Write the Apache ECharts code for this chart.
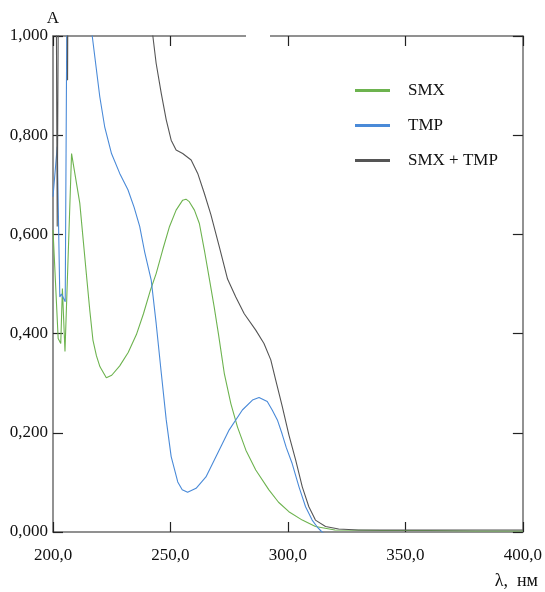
<!DOCTYPE html>
<html>
<head>
<meta charset="utf-8">
<script src="https://cdn.jsdelivr.net/npm/echarts@6/dist/echarts.min.js"></script>
<style>
  html, body { margin: 0; padding: 0; background: #fff; }
  #chart { width: 545px; height: 592px; }
</style>
</head>
<body>
<div id="chart"></div>
<script>
// wavelength ticks and absorbance ticks
const xTicks = [200, 250, 300, 350, 400];
const yTicks = [0, 0.2, 0.4, 0.6, 0.8, 1.0];

// SMX  [λ, A]
const smx = [
  [200.0, 0.609], [202.2, 0.390], [203.3, 0.380], [204.0, 0.491], [205.1, 0.364],
  [207.9, 0.763], [208.6, 0.760], [211.4, 0.663], [214.3, 0.515], [215.7, 0.445],
  [217.0, 0.387], [218.5, 0.355], [220.0, 0.333], [222.7, 0.311], [225.0, 0.316],
  [228.4, 0.335], [232.0, 0.362], [235.5, 0.398], [238.5, 0.440], [241.5, 0.488],
  [243.9, 0.521], [246.7, 0.569], [249.6, 0.616], [252.4, 0.649], [255.2, 0.669],
  [256.6, 0.671], [258.0, 0.666], [260.2, 0.649], [262.3, 0.622], [264.4, 0.569],
  [266.5, 0.512], [268.6, 0.454], [270.4, 0.400], [272.9, 0.320], [275.7, 0.259],
  [278.5, 0.212], [282.1, 0.165], [286.3, 0.125], [291.9, 0.085], [296.0, 0.060],
  [300.4, 0.041], [306.1, 0.024], [311.7, 0.011], [320.0, 0.004], [340.0, 0.003],
  [360.0, 0.003], [380.0, 0.002], [400.0, 0.002]
];

// TMP  [λ, A]  (values above 1 are cut off by the frame)
const tmp = [
  [200.0, 0.676], [201.8, 0.777], [202.9, 0.474], [203.6, 0.480], [205.2, 0.464],
  [206.2, 1.3], [212.0, 1.3], [214.0, 1.1], [216.7, 1.0], [219.9, 0.878],
  [222.0, 0.817], [224.9, 0.763], [228.4, 0.723], [231.9, 0.690], [234.5, 0.655],
  [236.9, 0.616], [239.0, 0.565], [241.8, 0.508], [243.9, 0.421], [246.1, 0.320],
  [248.2, 0.226], [250.3, 0.152], [253.1, 0.101], [255.0, 0.085], [257.3, 0.080],
  [260.9, 0.088], [265.1, 0.111], [269.4, 0.152], [275.0, 0.206], [280.6, 0.246],
  [284.9, 0.266], [287.7, 0.271], [291.2, 0.263], [293.3, 0.246], [295.5, 0.226],
  [297.5, 0.198], [299.3, 0.170], [301.8, 0.138], [304.7, 0.091], [307.5, 0.051],
  [310.3, 0.024], [312.5, 0.010], [314.5, 0.000], [316.0, -0.005], [400.0, -0.005]
];

// SMX + TMP  [λ, A]
const mix = [
  [200.0, 1.3], [201.2, 1.3], [201.8, 0.616], [202.5, 1.3], [205.9, 1.3],
  [206.2, 0.911], [206.5, 1.3], [238.0, 1.3], [241.0, 1.06], [242.5, 1.0],
  [243.9, 0.945], [246.1, 0.884], [248.2, 0.831], [250.3, 0.790], [252.4, 0.770],
  [255.2, 0.763], [258.8, 0.750], [261.6, 0.723], [264.4, 0.683], [267.2, 0.640],
  [270.8, 0.575], [274.3, 0.510], [277.8, 0.474], [281.4, 0.440], [286.3, 0.407],
  [289.8, 0.380], [292.7, 0.347], [294.8, 0.306], [297.6, 0.253], [300.4, 0.196],
  [303.3, 0.145], [306.1, 0.091], [308.9, 0.051], [311.7, 0.024], [316.0, 0.011],
  [321.6, 0.006], [330.0, 0.004], [400.0, 0.004]
];

const seriesNames = ['SMX', 'TMP', 'SMX + TMP'];
const seriesColors = ['#6db34f', '#4a8ad8', '#555555'];
const seriesData = [smx, tmp, mix];

const font = 'Liberation Serif';
const comma = (v, d) => v.toFixed(d).replace('.', ',');

const frameLine = { show: true, onZero: false, lineStyle: { color: '#6e6e6e', width: 1.5 } };
const ticks = { show: true, inside: true, length: 10, lineStyle: { color: '#222', width: 1.2 } };

let chart = echarts.init(document.getElementById('chart'));
chart.setOption({
  animation: false,
  backgroundColor: '#fff',
  grid: { left: 53, right: 21, top: 36, bottom: 60, containLabel: false },
  legend: {
    orient: 'vertical',
    left: 355,
    top: 82,
    padding: 0,
    itemWidth: 35,
    itemHeight: 3,
    itemGap: 18,
    icon: 'rect',
    data: seriesNames,
    textStyle: { fontFamily: font, fontSize: 17, color: '#111', lineHeight: 16, padding: [0, 0, 0, 13] }
  },
  xAxis: [
    {
      type: 'value', position: 'bottom', min: xTicks[0], max: xTicks[xTicks.length - 1], interval: 50,
      axisLine: frameLine, axisTick: ticks, splitLine: { show: false },
      axisLabel: { margin: 15, fontFamily: font, fontSize: 17, color: '#111', formatter: v => comma(v, 1) }
    },
    {
      type: 'value', position: 'top', min: xTicks[0], max: xTicks[xTicks.length - 1], interval: 50,
      axisLine: frameLine, axisTick: ticks, splitLine: { show: false }, axisLabel: { show: false }
    }
  ],
  yAxis: [
    {
      type: 'value', position: 'left', min: yTicks[0], max: yTicks[yTicks.length - 1], interval: 0.2,
      name: 'A', nameLocation: 'end', nameGap: 9,
      nameTextStyle: { fontFamily: font, fontSize: 17, color: '#111' },
      axisLine: frameLine, axisTick: ticks, splitLine: { show: false },
      axisLabel: { margin: 5, fontFamily: font, fontSize: 17, color: '#111', formatter: v => comma(v, 3) }
    },
    {
      type: 'value', position: 'right', min: yTicks[0], max: yTicks[yTicks.length - 1], interval: 0.2,
      axisLine: frameLine, axisTick: ticks, splitLine: { show: false }, axisLabel: { show: false }
    }
  ],
  graphic: [
    // small break in the top frame line
    { type: 'rect', left: 246, top: 33, shape: { width: 24, height: 6 }, style: { fill: '#fff' }, z: 100 },
    {
      type: 'text', right: 7, top: 572,
      style: { text: 'λ,  нм', font: '18px "Liberation Serif"', fill: '#111' }
    }
  ],
  series: seriesData.map((d, i) => ({
    name: seriesNames[i],
    type: 'line',
    data: d,
    showSymbol: false,
    symbol: 'none',
    clip: true,
    color: seriesColors[i],
    lineStyle: { width: 1.1, color: seriesColors[i] }
  }))
});
</script>
</body>
</html>
